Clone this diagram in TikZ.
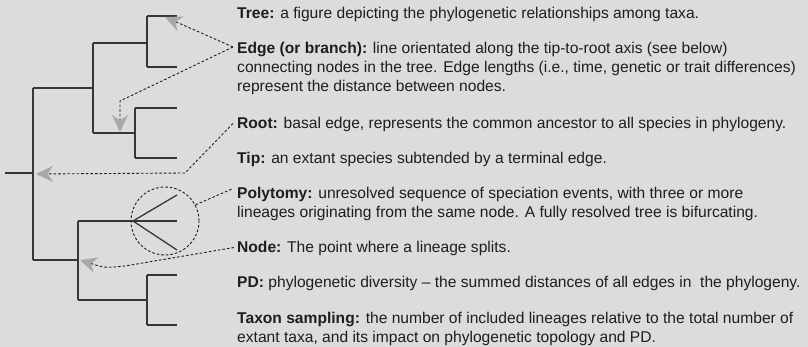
\documentclass[tikz,border=0pt]{standalone}
\usepackage{fontspec}
\setmainfont{Liberation Sans}
\usetikzlibrary{arrows.meta}
\definecolor{bg}{HTML}{DCDCDC}
\definecolor{ink}{HTML}{1E1E1E}
\definecolor{branch}{HTML}{363636}
\definecolor{tipgray}{HTML}{A8A8A8}
\newcommand{\term}[2]{\parbox[t]{575pt}{\raggedright\textbf{#1} #2}}
\tikzset{
  branchline/.style={draw=branch, line width=1.3pt},
  pointer/.style={draw=ink, line width=0.9pt, dash pattern=on 2.6pt off 2pt},
  pointed/.style={pointer, -{Stealth[length=17pt,width=16pt,inset=5.5pt,color=tipgray]}},
  gloss/.style={anchor=base west, inner sep=0pt, text=ink,
    font=\fontsize{15.6}{18.7}\selectfont},
}
\begin{document}
\begin{tikzpicture}[x=1pt,y=-1pt]
\fill[bg] (0,0) rectangle (808,347);
\useasboundingbox (0,0) rectangle (808,347);

% ---- tree: junctions and tips
\coordinate (rootend) at (5,173);
\coordinate (r) at (33,173);
\coordinate (rU) at (33,88);
\coordinate (rL) at (33,260);
\coordinate (a) at (93,88);
\coordinate (aU) at (93,43);
\coordinate (aL) at (93,133);
\coordinate (b) at (147,43);
\coordinate (bU) at (147,16);
\coordinate (bL) at (147,67);
\coordinate (t1) at (177,16);
\coordinate (t2) at (177,67);
\coordinate (c) at (135,133);
\coordinate (cU) at (135,108);
\coordinate (cL) at (135,158);
\coordinate (t3) at (177,108);
\coordinate (t4) at (177,158);
\coordinate (d) at (78,260);
\coordinate (dU) at (78,221);
\coordinate (dL) at (78,300);
\coordinate (p) at (133,221);
\coordinate (t5) at (177,195);
\coordinate (t6) at (177,221);
\coordinate (t7) at (177,250);
\coordinate (e) at (147,300);
\coordinate (eU) at (147,275);
\coordinate (eL) at (147,325);
\coordinate (t8) at (177,275);
\coordinate (t9) at (177,325);

\draw[branchline] (rootend) -- (r);
\draw[branchline] (rU) -- (rL);
\draw[branchline] (rU) -- (a);
\draw[branchline] (aU) -- (aL);
\draw[branchline] (aU) -- (b);
\draw[branchline] (bU) -- (bL);
\draw[branchline] (bU) -- (t1);
\draw[branchline] (bL) -- (t2);
\draw[branchline] (aL) -- (c);
\draw[branchline] (cU) -- (cL);
\draw[branchline] (cU) -- (t3);
\draw[branchline] (cL) -- (t4);
\draw[branchline] (rL) -- (d);
\draw[branchline] (dU) -- (dL);
\draw[branchline] (dU) -- (p);
\draw[branchline] (p) -- (t5);
\draw[branchline] (p) -- (t6);
\draw[branchline] (p) -- (t7);
\draw[branchline] (dL) -- (e);
\draw[branchline] (eU) -- (eL);
\draw[branchline] (eU) -- (t8);
\draw[branchline] (eL) -- (t9);

% polytomy ring
\node (ring) [circle, minimum size=68pt, inner sep=0pt, pointer] at (165,221) {};

% ---- glossary
\node[gloss] (tree) at (237,18.5) {\term{Tree:}{a figure depicting the phylogenetic relationships among taxa.}};
\node[gloss] (edge) at (237,54) {\term{Edge (or branch):}{line orientated along the tip-to-root axis (see below)\\
connecting nodes in the tree. Edge lengths (i.e., time, genetic or trait differences)\\
represent the distance between nodes.}};
\node[gloss] (root) at (237,128.5) {\term{Root:}{basal edge, represents the common ancestor to all species in phylogeny.}};
\node[gloss] (tip) at (237,163.5) {\term{Tip:}{an extant species subtended by a terminal edge.}};
\node[gloss] (poly) at (237,198.5) {\term{Polytomy:}{unresolved sequence of speciation events, with three or more\\
lineages originating from the same node. A fully resolved tree is bifurcating.}};
\node[gloss] (node) at (237,252.5) {\term{Node:}{The point where a lineage splits.}};
\node[gloss] (pd) at (237,287.5) {\term{PD:}{phylogenetic diversity -- the summed distances of all edges in\ \ the phylogeny.}};
\node[gloss] (taxon) at (237,323.5) {\term{Taxon sampling:}{the number of included lineages relative to the total number of\\
extant taxa, and its impact on phylogenetic topology and PD.}};

% ---- pointers from the glossary to the tree
\coordinate (edgeport) at ([xshift=-4pt,yshift=7pt]edge.base west);
\coordinate (rootport) at ([xshift=-4pt,yshift=5pt]root.base west);
\coordinate (polyport) at ([xshift=-4pt,yshift=10pt]poly.base west);
\coordinate (nodeport) at ([xshift=-3pt,yshift=5pt]node.base west);
\coordinate (edgebend) at (120,101);
\coordinate (edgetip) at (120,132);
\coordinate (treetip) at (165,17);
\coordinate (rootbend) at (185,173);
\coordinate (roottip) at (36,174);
\coordinate (nodebend) at (125,266);
\coordinate (nodetip) at (80,260);

\draw[pointed] (edgeport) -- (treetip);
\draw[pointed] (edgeport) -- (edgebend) -- (edgetip);
\draw[pointed] (rootport) -- (rootbend) -- (roottip);
\draw[pointer] (ring.28) -- (polyport);
\draw[pointed] (nodeport) -- (nodebend) .. controls (105,268) .. (nodetip);
\end{tikzpicture}
\end{document}
